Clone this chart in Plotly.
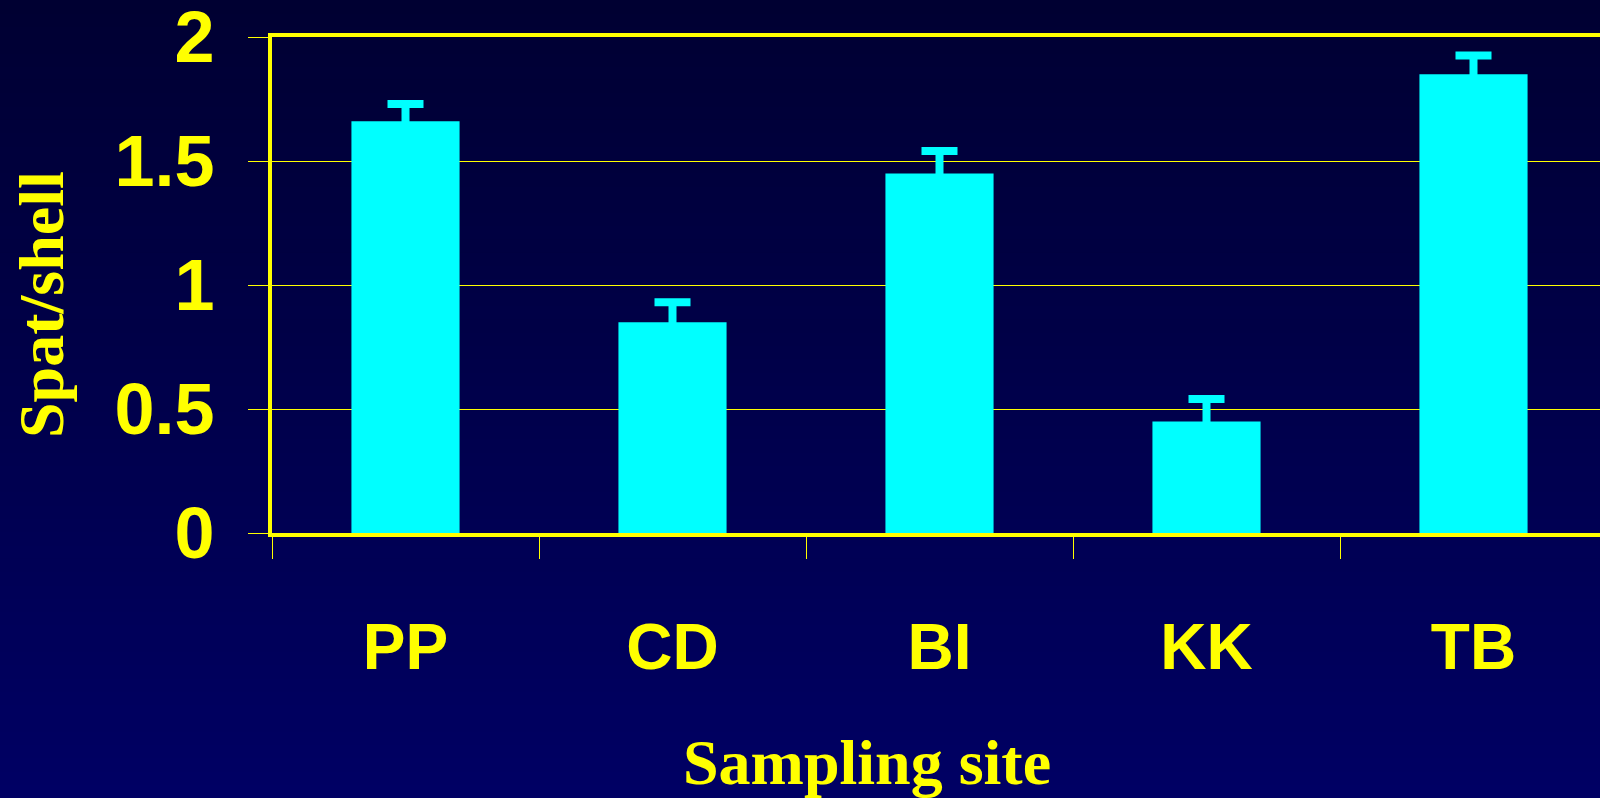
import plotly.graph_objects as go

sites = ["PP", "CD", "BI", "KK", "TB"]
spat_per_shell = [1.66, 0.85, 1.45, 0.45, 1.85]
std_error = [0.07, 0.08, 0.09, 0.09, 0.075]
y_ticks = [0, 0.5, 1, 1.5, 2]
y_tick_labels = ["0", "0.5", "1", "1.5", "2"]

W, H = 1600, 798
ML, MR, MT, MB = 272, 0, 37, 265
plot_h = H - MT - MB
plot_w = W - ML - MR
cat_px = 267.0  # pixel width of one category slot

YELLOW = "#FFFF00"
CYAN = "#00FFFF"

fig = go.Figure()
fig.add_trace(go.Bar(
    x=sites, y=spat_per_shell, width=0.405,
    marker=dict(color=CYAN, line=dict(width=0)),
    error_y=dict(type="data", symmetric=True, array=std_error,
                 color=CYAN, thickness=8, width=18),
))

# vertical gradient background
shapes = []
n = 60
top = (0, 0, 50)
bot = (0, 0, 100)
for i in range(n):
    y0p = H * i / n - (10 if i == 0 else 0)
    y1p = H * (i + 1) / n + (1 if i < n - 1 else 10)
    t = (i + 0.5) / n
    c = tuple(round(top[k] + (bot[k] - top[k]) * t) for k in range(3))
    shapes.append(dict(
        type="rect", xref="paper", yref="paper", layer="below",
        x0=-(ML + 10) / plot_w, x1=1.0 + 0.01,
        y0=(H - MB - y1p) / plot_h, y1=(H - MB - y0p) / plot_h,
        fillcolor="rgb(%d,%d,%d)" % c, line=dict(width=0),
    ))

fig.update_layout(
    width=W, height=H,
    margin=dict(l=ML, r=MR, t=MT, b=MB, autoexpand=False),
    paper_bgcolor="rgb(0,0,52)",
    plot_bgcolor="rgba(0,0,0,0)",
    showlegend=False,
    shapes=shapes,
    xaxis=dict(
        range=[-0.5, -0.5 + plot_w / cat_px], showline=True, linecolor=YELLOW,
        linewidth=4, mirror=True, ticks="outside", tickson="boundaries",
        ticklen=22, tickwidth=1, tickcolor=YELLOW, showgrid=False,
        automargin=False,
        tickfont=dict(family="Liberation Sans, Arial", size=64, color=YELLOW,
                      weight="bold"),
        ticklabelstandoff=55, ticklabeloverflow="allow",
    ),
    yaxis=dict(
        range=[0, 2], tickvals=y_ticks, ticktext=y_tick_labels,
        showline=True, linecolor=YELLOW, linewidth=4, mirror=False,
        ticks="outside", ticklen=20, tickwidth=1, tickcolor=YELLOW,
        showgrid=True, gridcolor=YELLOW, gridwidth=1, zeroline=False,
        automargin=False,
        tickfont=dict(family="Liberation Sans, Arial", size=72, color=YELLOW,
                      weight="bold"),
        ticklabelstandoff=19, ticklabeloverflow="allow",
    ),
    font=dict(family="Liberation Sans, Arial", color=YELLOW),
    annotations=[
        dict(text="<b>Sampling site</b>", xref="paper", yref="paper",
             x=(867 - ML) / plot_w, y=(H - MB - 762) / plot_h,
             showarrow=False, xanchor="center", yanchor="middle",
             font=dict(family="Liberation Serif, Times New Roman", size=64, color=YELLOW)),
        dict(text="<b>Spat/shell</b>", xref="paper", yref="paper",
             x=(41 - ML) / plot_w, y=(H - MB - 305) / plot_h, textangle=-90,
             showarrow=False, xanchor="center", yanchor="middle",
             font=dict(family="Liberation Serif, Times New Roman", size=64, color=YELLOW)),
    ],
)

fig.write_html(
    "out.html",
    config={"displayModeBar": False},
    post_script="document.body.style.margin='0';document.body.style.overflow='hidden';",
)
